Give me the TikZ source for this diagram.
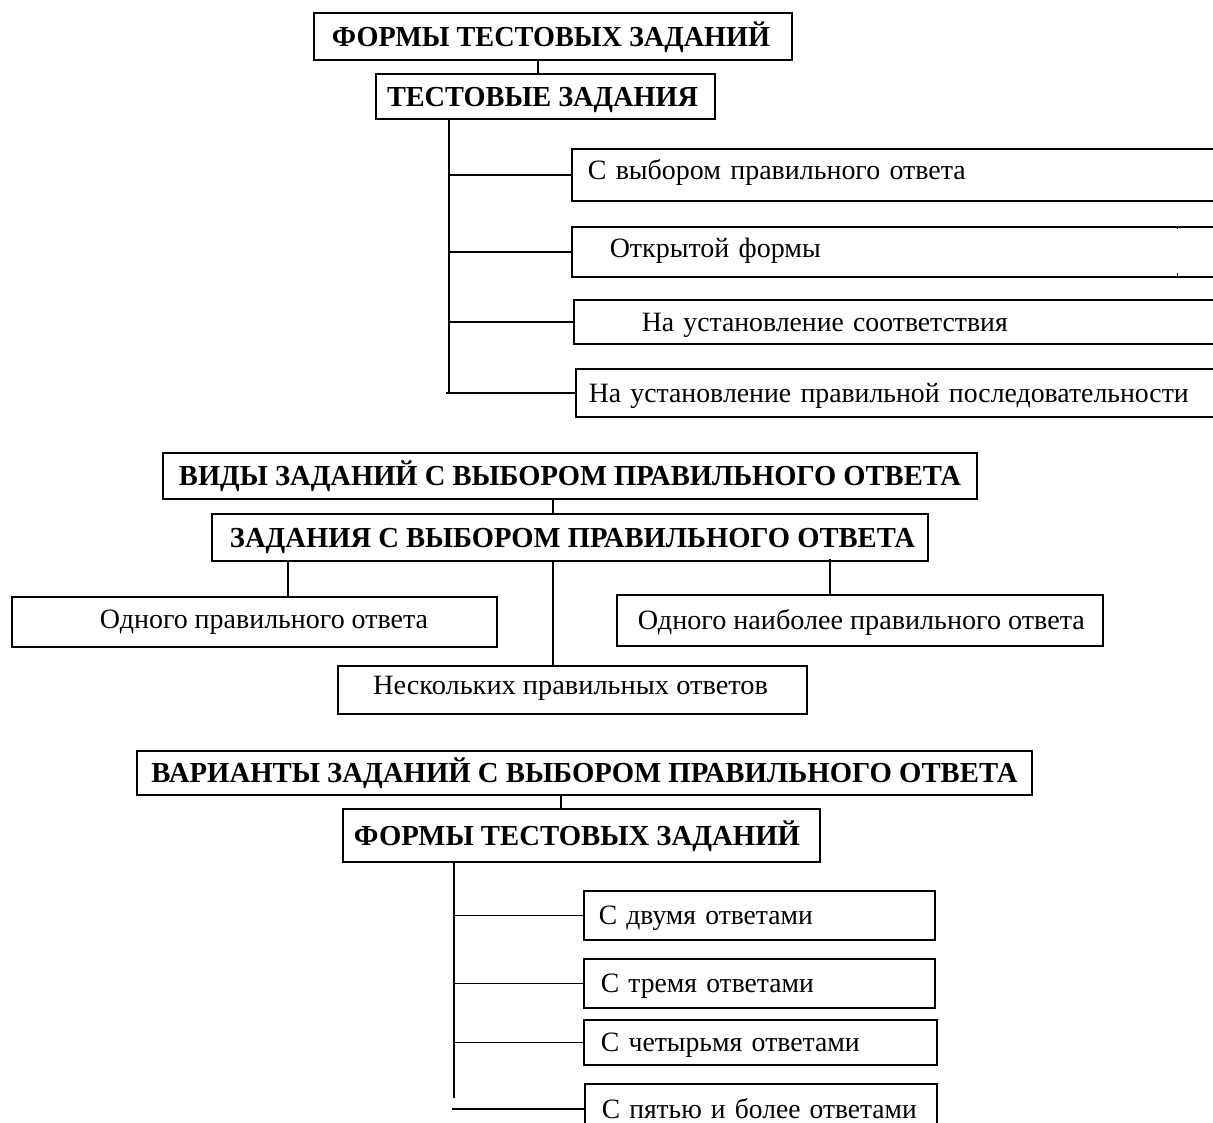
\documentclass[tikz,border=0pt]{standalone}
\usepackage{fontspec}
\usepackage{graphicx}
\setmainfont{Liberation Serif}
\newcommand\myreg{\fontsize{28}{33}\selectfont}
\newcommand\mybold{\fontsize{29}{34}\selectfont\bfseries}
\newcommand\fitw[2]{\resizebox{#1pt}{\height}{#2}}
\begin{document}
\begin{tikzpicture}[x=1pt,y=-1pt,line width=1.6pt,
  bx/.style={draw,rectangle,inner sep=0pt},
  hbox/.style={bx,font=\mybold,text height=25pt,text depth=5.5pt},
  cbox/.style={bx,font=\myreg,text height=24pt,text depth=5.5pt},
  lbox/.style={cbox,anchor=north west,align=left}]
\useasboundingbox (0,0) rectangle (1213,1122);
\clip (0,0) rectangle (1213,1122);
\fill[white] (0,0) rectangle (1213,1122);

% ---------- top section ----------
\node[hbox,minimum width=478,minimum height=47] (b1) at (553,36.5) {\fitw{438}{ФОРМЫ ТЕСТОВЫХ ЗАДАНИЙ}\hspace*{4pt}};
\node[hbox,minimum width=339,minimum height=45] (b2) at (545.5,96.5) {\fitw{311}{ТЕСТОВЫЕ ЗАДАНИЯ}\hspace*{6pt}};
\node[lbox,minimum width=689,minimum height=52,inner xsep=16,text width=657,text depth=15.5pt] (a) at (571,148) {\fitw{378}{С выбором правильного ответа}};
\node[lbox,minimum width=689,minimum height=50,inner xsep=38,text width=613,text depth=13.5pt] (b) at (571,226) {\fitw{211}{Открытой формы}};
\node[lbox,minimum width=687,minimum height=44,inner xsep=68,text width=551] (c) at (573,299) {\fitw{366}{На установление соответствия}};
\node[lbox,minimum width=685,minimum height=48,inner xsep=13,text width=659] (d) at (575,368) {\fitw{600}{На установление правильной последовательности}};
\draw[line width=1pt] (1177,226) -- (1177,229) (1177,273) -- (1177,276);

\coordinate (c1) at (538,0);
\coordinate (tr1) at (449,0);
\draw (b1.south -| c1) -- (b2.north -| c1);
\draw (b2.south -| tr1) -- (tr1 |- d.west);
\foreach \n in {a,b,c} \draw (tr1 |- \n.west) -- (\n.west);
\draw ([xshift=-3pt]tr1 |- d.west) -- (d.west);

% ---------- middle section ----------
\node[hbox,minimum width=814,minimum height=46] (b3) at (570,476) {\fitw{782}{ВИДЫ ЗАДАНИЙ С ВЫБОРОМ ПРАВИЛЬНОГО ОТВЕТА}};
\node[hbox,minimum width=716,minimum height=47] (b4) at (570,537.5) {\hspace*{5pt}\fitw{685}{ЗАДАНИЯ С ВЫБОРОМ ПРАВИЛЬНОГО ОТВЕТА}};
\node[cbox,minimum width=485,minimum height=50,text depth=11.5pt] (e) at (254.5,622) {\hspace*{19pt}\fitw{328}{Одного правильного ответа}};
\node[cbox,minimum width=469,minimum height=48,text depth=14.5pt] (f) at (572.5,690) {\fitw{395}{Нескольких правильных ответов}\hspace*{4pt}};
\node[cbox,minimum width=486,minimum height=51,text depth=6.5pt] (g) at (860,620.5) {\hspace*{3pt}\fitw{447}{Одного наиболее правильного ответа}};

\coordinate (c2) at (553,0);
\coordinate (c3) at (288,0);
\coordinate (c4) at (830,0);
\draw (b3.south -| c2) -- (b4.north -| c2);
\draw (b4.south -| c3) -- (e.north -| c3);
\draw (b4.south -| c2) -- (f.north -| c2);
\draw ([yshift=3pt]b4.south -| c4) -- (g.north -| c4);

% ---------- bottom section ----------
\node[hbox,minimum width=895,minimum height=44] (b5) at (584.5,773) {\fitw{866}{ВАРИАНТЫ ЗАДАНИЙ С ВЫБОРОМ ПРАВИЛЬНОГО ОТВЕТА}};
\node[hbox,minimum width=477,minimum height=53] (b6) at (581.5,835.5) {\fitw{446}{ФОРМЫ ТЕСТОВЫХ ЗАДАНИЙ}\hspace*{9pt}};
\node[lbox,minimum width=351,minimum height=49,inner xsep=15,text width=321] (h) at (583,890) {\fitw{214}{С двумя ответами}};
\node[lbox,minimum width=351,minimum height=49,inner xsep=17,text width=317] (i) at (583,958) {\fitw{213}{С тремя ответами}};
\node[lbox,minimum width=353,minimum height=45,inner xsep=17,text width=319] (j) at (583,1019) {\fitw{259}{С четырьмя ответами}};
\node[lbox,minimum width=352,minimum height=50,inner xsep=17,text width=318] (k) at (584,1083) {\fitw{315}{С пятью и более ответами}};

\coordinate (c5) at (561,0);
\coordinate (tr2) at (454,0);
\coordinate (tr2e) at (454,1098);
\draw (b5.south -| c5) -- (b6.north -| c5);
\draw (b6.south -| tr2) -- (tr2e);
\foreach \n in {h,i,j} \draw (tr2 |- \n.west) -- (\n.west);
\draw ([xshift=-2pt]tr2 |- k.west) -- (k.west);
\end{tikzpicture}
\end{document}
